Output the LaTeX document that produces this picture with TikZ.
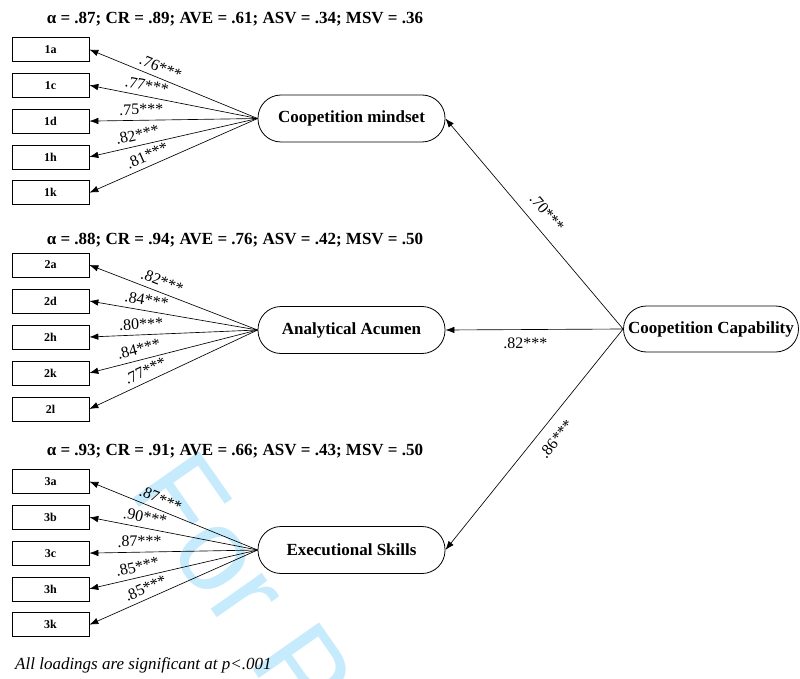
\documentclass[tikz,border=0pt]{standalone}
\usepackage{fontspec}
\setmainfont{Liberation Serif}
\newfontfamily\wmfont{Liberation Sans}
\usetikzlibrary{arrows.meta}
\definecolor{wmblue}{RGB}{198,235,252}
\begin{document}
\begin{tikzpicture}[x=1pt,y=-1pt,
  ind/.style={draw, line width=0.7pt, minimum width=77pt, minimum height=24pt,
    inner sep=0pt, font=\fontsize{12}{14}\selectfont\bfseries},
  lat/.style={draw, line width=0.8pt, rounded corners=23pt, minimum width=187pt,
    minimum height=47pt, inner sep=0pt, font=\fontsize{17}{20}\selectfont\bfseries},
  load/.style={line width=0.65pt, -{Latex[length=9pt,width=6.5pt]}},
  lbl/.style={sloped, inner sep=1pt, font=\fontsize{16}{18}\selectfont},
  hdr/.style={anchor=base, inner sep=0pt, font=\fontsize{17}{20}\selectfont\bfseries},
]
\clip (0,0) rectangle (800,679);
\useasboundingbox (0,0) rectangle (800,679);
\fill[white] (0,0) rectangle (800,679);

% review watermark
\node[wmblue, rotate=-55, anchor=base west, inner sep=0pt,
  font=\fontsize{118}{128}\selectfont\wmfont] (wm) at (127,490) {For P};

% headers
\node[hdr] (h1) at (235,24) {α = .87; CR = .89; AVE = .61; ASV = .34; MSV = .36};
\node[hdr] (h2) at (235,244) {α = .88; CR = .94; AVE = .76; ASV = .42; MSV = .50};
\node[hdr] (h3) at (235,455) {α = .93; CR = .91; AVE = .66; ASV = .43; MSV = .50};

% latent factors
\node[lat] (m) at (351.5,118.5) {Coopetition mindset};
\node[lat] (a) at (351.5,330) {Analytical Acumen};
\node[lat] (e) at (351.5,550) {Executional Skills};
\node[lat, minimum width=175pt, minimum height=46pt] (cc) at (711,329) {Coopetition Capability};

% indicators
\foreach \n/\y in {1a/49.5,1c/85.3,1d/121.1,1h/156.9,1k/192.7,
                   2a/265,2d/301,2h/337,2k/373,2l/409,
                   3a/481.5,3b/517.3,3c/553.1,3h/588.9,3k/624.7}
  \node[ind] (i\n) at (50.5,\y) {\n};

% loadings: Coopetition mindset
\draw[load] (m.west) -- node[lbl, pos=0.60, above=4pt] {.76***} (i1a.east);
\draw[load] (m.west) -- node[lbl, pos=0.67, above=4pt] {.77***} (i1c.east);
\draw[load] (m.west) -- node[lbl, pos=0.69, above=4pt] {.75***} (i1d.east);
\draw[load] (m.west) -- node[lbl, pos=0.70, above=4pt] {.82***} (i1h.east);
\draw[load] (m.west) -- node[lbl, pos=0.63, above=4pt] {.81***} (i1k.east);

% loadings: Analytical Acumen
\draw[load] (a.west) -- node[lbl, pos=0.59, above=4pt] {.82***} (i2a.east);
\draw[load] (a.west) -- node[lbl, pos=0.67, above=4pt] {.84***} (i2d.east);
\draw[load] (a.west) -- node[lbl, pos=0.69, above=4pt] {.80***} (i2h.east);
\draw[load] (a.west) -- node[lbl, pos=0.69, above=4pt] {.84***} (i2k.east);
\draw[load] (a.west) -- node[lbl, pos=0.64, above=4pt] {.77***} (i2l.east);

% loadings: Executional Skills
\draw[load] (e.west) -- node[lbl, pos=0.60, above=4pt] {.87***} (i3a.east);
\draw[load] (e.west) -- node[lbl, pos=0.68, above=4pt] {.90***} (i3b.east);
\draw[load] (e.west) -- node[lbl, pos=0.70, above=4pt] {.87***} (i3c.east);
\draw[load] (e.west) -- node[lbl, pos=0.70, above=4pt] {.85***} (i3h.east);
\draw[load] (e.west) -- node[lbl, pos=0.64, above=4pt] {.85***} (i3k.east);

% second-order paths
\draw[load] (cc.west) -- node[lbl, pos=0.50, above=10pt] {.70***} (m.east);
\draw[load] (cc.west) -- node[lbl, pos=0.55, below=7pt] {.82***} (a.east);
\draw[load] (cc.west) -- node[lbl, pos=0.45, below=10pt] {.86***} (e.east);

% note
\node[anchor=base west, inner sep=0pt, font=\fontsize{17}{20}\selectfont\itshape] (note)
  at (15,669) {All loadings are significant at p<.001};
\end{tikzpicture}
\end{document}
